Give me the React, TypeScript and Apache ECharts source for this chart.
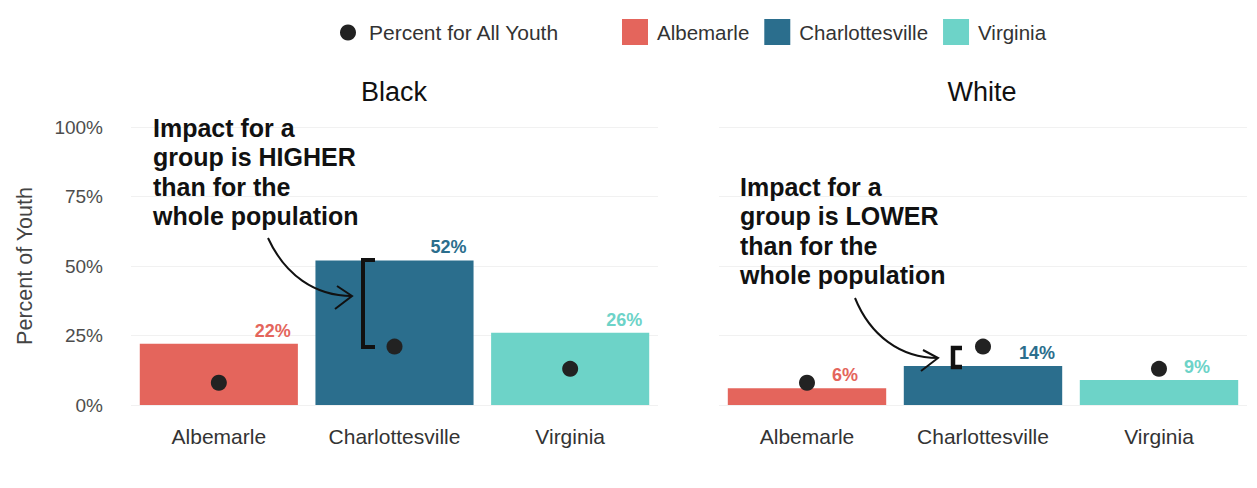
import React, { useEffect, useRef } from "react";
import * as echarts from "echarts";

const categories = ["Albemarle", "Charlottesville", "Virginia"];
const panels = ["Black", "White"];
const blackValues = [22, 52, 26];
const whiteValues = [6, 14, 9];
const allYouth = [8, 21, 13];
const yTicks = [0, 25, 50, 75, 100];
const colors = ["#E4655C", "#2B6E8D", "#6DD3C8"];
const pointName = "Percent for All Youth";

const FONT = "Liberation Sans, Arial, Helvetica, sans-serif";

function buildBars(values: number[], axisIndex: number) {
  return categories.map((cat, i) => ({
    name: cat,
    type: "bar",
    xAxisIndex: axisIndex,
    yAxisIndex: axisIndex,
    stack: "s" + axisIndex,
    barWidth: "90%",
    itemStyle: { color: colors[i] },
    data: categories.map((_, j) =>
      j === i
        ? {
            value: values[i],
            label: { offset: [values[i] >= 10 ? 54 : 38, 0] },
          }
        : "-"
    ),
    label: {
      show: true,
      position: "top",
      distance: 4,
      formatter: "{c}%",
      color: colors[i],
      fontSize: 18,
      fontWeight: "bold",
      fontFamily: FONT,
    },
    z: 2,
  }));
}

function buildPoints(axisIndex: number) {
  return {
    name: pointName,
    type: "scatter",
    xAxisIndex: axisIndex,
    yAxisIndex: axisIndex,
    symbol: "circle",
    symbolSize: 16,
    itemStyle: { color: "#222222", opacity: 1 },
    data: allYouth,
    z: 5,
  };
}

export default function App() {
  const ref = useRef<HTMLDivElement>(null);

  useEffect(() => {
    document.body.style.margin = "0";
    if (!ref.current) return;
    const chart = echarts.init(ref.current, undefined, { renderer: "svg" });

    const grids = [
      { left: 131, top: 127, width: 527, height: 278 },
      { left: 719, top: 127, width: 528, height: 278 },
    ];

    const xAxes = grids.map((_, gi) => ({
      type: "category",
      gridIndex: gi,
      data: categories,
      axisLine: { show: false },
      axisTick: { show: false },
      axisLabel: { color: "#333333", fontSize: 21, margin: 21, fontFamily: FONT },
      splitLine: { show: false },
    }));

    const yAxes = grids.map((_, gi) => ({
      type: "value",
      gridIndex: gi,
      min: yTicks[0],
      max: yTicks[yTicks.length - 1],
      interval: 25,
      axisLine: { show: false },
      axisTick: { show: false },
      axisLabel: {
        show: gi === 0,
        formatter: "{value}%",
        color: "#4d4d4d",
        fontSize: 19,
        margin: 28,
        fontFamily: FONT,
      },
      splitLine: { show: true, lineStyle: { color: "#f1f1f1", width: 1 } },
      name: gi === 0 ? "Percent of Youth" : "",
      nameLocation: "middle",
      nameGap: 95,
      nameRotate: 90,
      nameTextStyle: { color: "#444444", fontSize: 21.5, fontFamily: FONT },
    }));

    const series: any[] = [
      ...buildBars(blackValues, 0),
      buildPoints(0),
      ...buildBars(whiteValues, 1),
      buildPoints(1),
    ];

    const panelCenters = [394, 982];

    const graphic: any[] = [
      ...panels.map((p, i) => ({
        type: "text",
        x: panelCenters[i],
        y: 92,
        style: {
          text: p,
          align: "center",
          verticalAlign: "middle",
          fontSize: 27,
          fontFamily: FONT,
          fill: "#111111",
        },
      })),
      {
        type: "text",
        x: 153,
        y: 113,
        style: {
          text: "Impact for a\ngroup is HIGHER\nthan for the\nwhole population",
          fontSize: 25,
          fontWeight: "bold",
          lineHeight: 29.5,
          fontFamily: FONT,
          fill: "#111111",
          verticalAlign: "top",
        },
        z: 10,
      },
      {
        type: "text",
        x: 740,
        y: 172,
        style: {
          text: "Impact for a\ngroup is LOWER\nthan for the\nwhole population",
          fontSize: 25,
          fontWeight: "bold",
          lineHeight: 29.5,
          fontFamily: FONT,
          fill: "#111111",
          verticalAlign: "top",
        },
        z: 10,
      },
      {
        type: "polyline",
        shape: { points: [[375, 260], [363, 260], [363, 347], [375, 347]] },
        style: { stroke: "#111111", lineWidth: 4, fill: null },
        z: 10,
      },
      {
        type: "bezierCurve",
        shape: { x1: 268, y1: 238, cpx1: 285, cpy1: 275, cpx2: 315, cpy2: 296, x2: 352, y2: 296 },
        style: { stroke: "#111111", lineWidth: 2, fill: null },
        z: 10,
      },
      {
        type: "polyline",
        shape: { points: [[337, 286], [352, 296], [335, 309]] },
        style: { stroke: "#111111", lineWidth: 2, fill: null },
        z: 10,
      },
      {
        type: "polyline",
        shape: { points: [[962, 348], [953, 348], [953, 367], [962, 367]] },
        style: { stroke: "#111111", lineWidth: 4.5, fill: null },
        z: 10,
      },
      {
        type: "bezierCurve",
        shape: { x1: 855, y1: 298, cpx1: 870, cpy1: 335, cpx2: 900, cpy2: 358, x2: 938, y2: 358 },
        style: { stroke: "#111111", lineWidth: 2, fill: null },
        z: 10,
      },
      {
        type: "polyline",
        shape: { points: [[923, 350], [938, 358], [921, 371]] },
        style: { stroke: "#111111", lineWidth: 2, fill: null },
        z: 10,
      },
    ];

    chart.setOption({
      animation: false,
      backgroundColor: "#ffffff",
      textStyle: { fontFamily: FONT },
      legend: [
        {
          data: [{ name: pointName, icon: "circle" }],
          left: 335,
          top: 17,
          itemWidth: 16,
          itemHeight: 16,
          selectedMode: false,
          textStyle: { fontSize: 21, color: "#333333", fontFamily: FONT, padding: [0, 0, 0, 8] },
        },
        {
          data: categories.map((c) => ({ name: c, icon: "rect" })),
          left: 617,
          top: 14,
          itemWidth: 26,
          itemHeight: 26,
          itemGap: 15,
          selectedMode: false,
          textStyle: { fontSize: 20.5, color: "#333333", fontFamily: FONT, padding: [0, 0, 0, 4] },
        },
      ],
      grid: grids,
      xAxis: xAxes,
      yAxis: yAxes,
      series,
      graphic,
    });

    return () => chart.dispose();
  }, []);

  return <div ref={ref} style={{ width: 1257, height: 488 }} />;
}
